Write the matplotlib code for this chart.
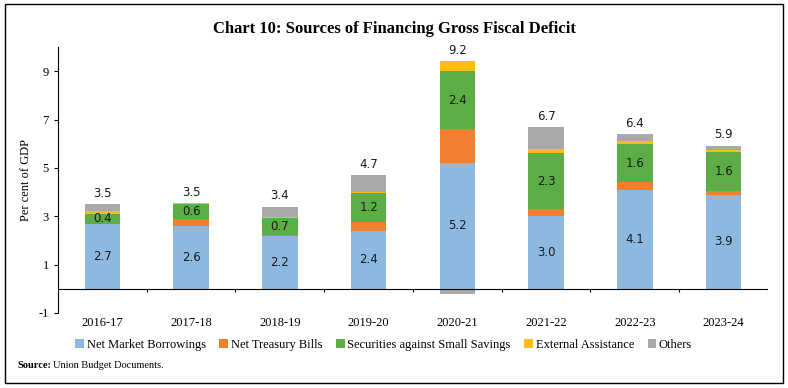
import numpy as np
import matplotlib
matplotlib.use('Agg')
import matplotlib.pyplot as plt
from matplotlib.patches import Rectangle

# years on x axis
years = ['2016-17', '2017-18', '2018-19', '2019-20', '2020-21', '2021-22', '2022-23', '2023-24']

# per cent of GDP
net_market = [2.7, 2.6, 2.2, 2.4, 5.2, 3.0, 4.1, 3.9]
treasury_bills = [0.0, 0.3, 0.03, 0.35, 1.4, 0.3, 0.3, 0.15]
small_savings = [0.4, 0.6, 0.7, 1.2, 2.4, 2.3, 1.6, 1.6]
external = [0.1, 0.05, 0.05, 0.05, 0.4, 0.2, 0.1, 0.07]
others = [0.3, -0.05, 0.42, 0.7, -0.2, 0.9, 0.3, 0.2]

series = [
    ('Net Market Borrowings', net_market, '#8DB9E0'),
    ('Net Treasury Bills', treasury_bills, '#F07F2E'),
    ('Securities against Small Savings', small_savings, '#5DAD46'),
    ('External Assistance', external, '#FDBE10'),
    ('Others', others, '#A9A9A9'),
]
labelled = ['Net Market Borrowings', 'Securities against Small Savings']

serif = 'Liberation Serif'
plt.rcParams.update({'font.family': serif, 'text.color': 'black',
                     'axes.unicode_minus': False})

fig = plt.figure(figsize=(7.88, 3.88), dpi=100)
ax = fig.add_axes([0.0736, 0.1933, 0.901, 0.6856])

x = np.arange(len(years))
w = 0.4
pos_base = np.zeros(len(years))
neg_base = np.zeros(len(years))
for name, vals, col in series:
    vals = np.array(vals, dtype=float)
    bottoms = np.where(vals >= 0, pos_base, neg_base)
    ax.bar(x, vals, w, bottom=bottoms, color=col, label=name, linewidth=0)
    if name in labelled:
        for xi, b, v in zip(x, bottoms, vals):
            ax.text(xi, b + v / 2, f'{v:.1f}', ha='center', va='center',
                    fontsize=8.5, family='DejaVu Sans', color='#1a1a1a')
    pos_base = pos_base + np.where(vals >= 0, vals, 0)
    neg_base = neg_base + np.where(vals < 0, vals, 0)

totals = pos_base + neg_base
for xi, top, t in zip(x, pos_base, totals):
    ax.annotate(f'{t:.1f}', (xi, top), xytext=(0, 3), textcoords='offset points',
                ha='center', va='bottom', fontsize=8.5, family='DejaVu Sans', color='#1a1a1a')

ax.set_xlim(-0.5, len(years) - 0.5)
ax.set_ylim(-1, 10)
ax.set_yticks([-1, 1, 3, 5, 7, 9])
ax.tick_params(axis='y', labelsize=9, length=3, width=0.8)
ax.set_xticks(x)
ax.set_xticklabels(years, fontsize=9)
ax.tick_params(axis='x', length=0, pad=3)
ax.set_ylabel('Per cent of GDP', fontsize=9, labelpad=5)

for s in ['top', 'right', 'bottom']:
    ax.spines[s].set_visible(False)
ax.spines['left'].set_linewidth(0.8)
# zero line with ticks between categories
ax.axhline(0, color='black', lw=0.8)
bounds = np.arange(0.5, len(years), 1.0)
ax.vlines(bounds, -0.15, 0, color='black', lw=0.8)

ax.legend(ncol=5, frameon=False, loc='center', bbox_to_anchor=(0.487, 0.111),
          bbox_transform=fig.transFigure, fontsize=9, handlelength=0.7,
          handleheight=0.7, handletextpad=0.2, columnspacing=1.1)

fig.text(0.5, 0.925, 'Chart 10: Sources of Financing Gross Fiscal Deficit',
         ha='center', va='center', fontsize=12, fontweight='bold')
fig.text(0.022, 0.057, 'Source:', fontsize=7.5, fontweight='bold', va='center')
fig.text(0.067, 0.057, 'Union Budget Documents.', fontsize=7.5, va='center')

fig.add_artist(Rectangle((0.006, 0.013), 0.988, 0.977, transform=fig.transFigure,
                         fill=False, edgecolor='black', lw=1))

fig.savefig('out.png', dpi=100)
